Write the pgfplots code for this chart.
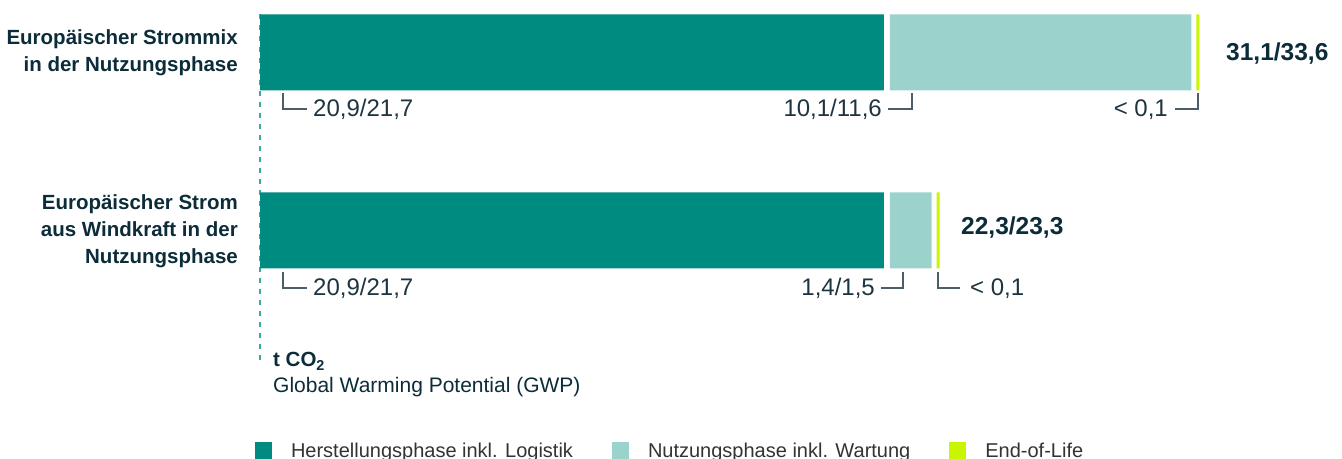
\documentclass[border=0pt]{standalone}
\usepackage{fontspec}
\setmainfont{Liberation Sans}
\usepackage{pgfplots}
\pgfplotsset{compat=1.18}
\definecolor{cTeal}{HTML}{008B80}
\definecolor{cLight}{HTML}{9BD3CC}
\definecolor{cLime}{HTML}{C8F500}
\definecolor{cDash}{HTML}{3FA9A0}
\definecolor{cText}{HTML}{0B2C38}
\definecolor{cVal}{HTML}{1E3440}
\definecolor{cBr}{HTML}{4B5D66}
\definecolor{cLeg}{HTML}{333333}
\newcommand{\catfont}{\fontsize{20.5bp}{27bp}\bfseries\selectfont}
\newcommand{\valfont}{\fontsize{24bp}{28bp}\selectfont}
\newcommand{\totfont}{\fontsize{24.5bp}{28bp}\bfseries\selectfont}
\begin{document}
\begin{tikzpicture}[x=1bp,y=1bp]
\path[use as bounding box] (0,0) rectangle (1342,459);
\draw[cDash, line width=2.5bp, dash pattern=on 5bp off 6bp] (260,445) -- (260,96);
\begin{axis}[
  at={(260bp,139.5bp)}, anchor=south west,
  scale only axis, width=1074.6bp, height=356bp,
  xmin=0, xmax=36, ymin=-0.5, ymax=1.5,
  hide axis, clip=false,
  xbar stacked, bar width=76bp,
  legend columns=3,
  legend image code/.code={\fill[#1] (0bp,-8.5bp) rectangle (17bp,8.5bp);},
  legend style={at={(-0.00465,-0.368)}, anchor=west, draw=none, fill=none,
    inner sep=0pt, outer sep=0pt,
    font=\fontsize{20bp}{24bp}\selectfont, text=cLeg,
    nodes={inner sep=0pt, outer sep=0pt},
    /tikz/every odd column/.append style={column sep=19bp},
    /tikz/every even column/.append style={column sep=39bp}},
]
\addplot[forget plot, fill=cTeal, draw=none] coordinates {(20.9,1) (20.9,0)};
\addplot[forget plot, fill=cLight, draw=none, xshift=6bp] coordinates {(10.1,1) (1.4,0)};
\addplot[forget plot, fill=cLime, draw=none, xshift=11bp] coordinates {(0.1,1) (0.1,0)};
\addlegendimage{fill=cTeal, draw=none}
\addlegendentry{Herstellungsphase inkl. Logistik}
\addlegendimage{fill=cLight, draw=none}
\addlegendentry{Nutzungsphase inkl. Wartung}
\addlegendimage{fill=cLime, draw=none}
\addlegendentry{End-of-Life}
\end{axis}
% category labels
\begin{scope}[every node/.style={anchor=base east, inner sep=0pt, font=\catfont, text=cText}]
\node at (238,414) {Europäischer Strommix};
\node at (238,387) {in der Nutzungsphase};
\node at (238,249) {Europäischer Strom};
\node at (238,222) {aus Windkraft in der};
\node at (238,195) {Nutzungsphase};
\end{scope}
% brackets
\begin{scope}[cBr, line width=1.5bp]
\draw (283,366) -- (283,350) -- (307,350);
\draw (888,350) -- (912,350) -- (912,366);
\draw (1175,350) -- (1198,350) -- (1198,366);
\draw (283,187) -- (283,171) -- (307,171);
\draw (881,171) -- (903,171) -- (903,187);
\draw (938,187) -- (938,171) -- (960,171);
\end{scope}
\begin{scope}[every node/.style={inner sep=0pt, font=\valfont, text=cVal}]
\node[anchor=base west] at (313,342.5) {20,9/21,7};
\node[anchor=base east] at (882,342.5) {10,1/11,6};
\node[anchor=base east] at (1168,342.5) {< 0,1};
\node[anchor=base west] at (313,163) {20,9/21,7};
\node[anchor=base east] at (875,163) {1,4/1,5};
\node[anchor=base west] at (970,163) {< 0,1};
\end{scope}
\node[anchor=base west, inner sep=0pt, font=\totfont, text=cText] at (1226,398) {31,1/33,6};
\node[anchor=base west, inner sep=0pt, font=\totfont, text=cText] at (961,224) {22,3/23,3};
\node[anchor=base west, inner sep=0pt, font=\fontsize{20.5bp}{24bp}\bfseries\selectfont, text=cText] at (273,92) {t CO\textsubscript{2}};
\node[anchor=base west, inner sep=0pt, font=\fontsize{21bp}{25bp}\selectfont, text=cText] at (273,66) {Global Warming Potential (GWP)};
\end{tikzpicture}
\end{document}
